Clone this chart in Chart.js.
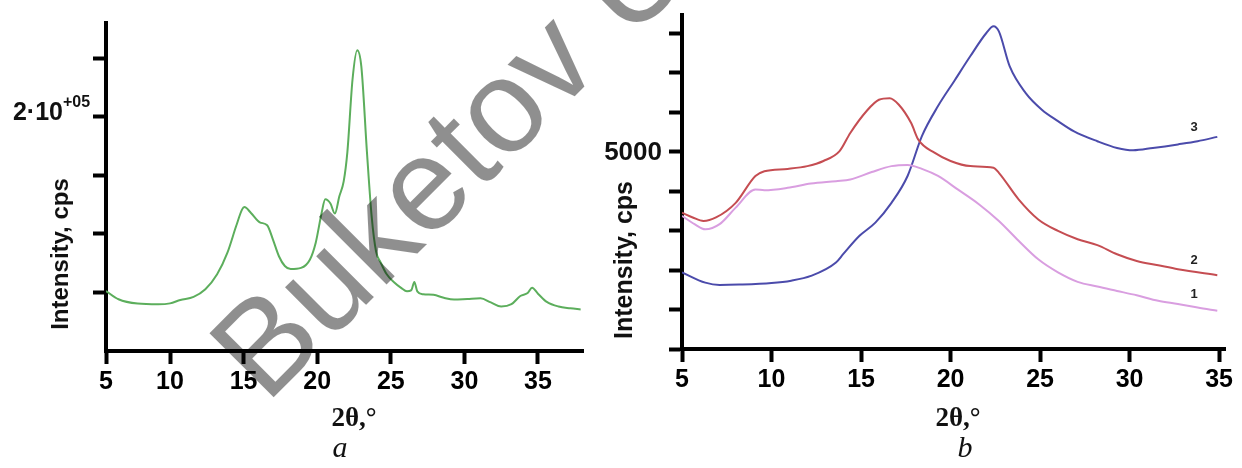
<!DOCTYPE html>
<html>
<head>
<meta charset="utf-8">
<script src="https://cdn.jsdelivr.net/npm/chart.js@4/dist/chart.umd.min.js"></script>
<style>
  body { margin: 0; background: #fff; }
  #wrap { position: relative; width: 1242px; height: 468px; overflow: hidden; }
  canvas { position: absolute; top: 0; }
</style>
</head>
<body>
<div id="wrap">
  <canvas id="chartA" width="590" height="468" style="left:0"></canvas>
  <canvas id="chartB" width="652" height="468" style="left:590px"></canvas>
  <canvas id="mark" width="1242" height="468" style="left:0;pointer-events:none"></canvas>
</div>
<script>
// --- panel a: XRD pattern ---
const angleA = [5.65, 6.5, 7.8, 9.2, 10.0, 10.7, 11.6, 12.4, 13.2, 13.9, 14.5, 14.9, 15.05, 15.5, 16.1, 16.6,
  17.0, 17.4, 17.8, 18.2, 18.9, 19.5, 19.9, 20.3, 20.55, 20.9, 21.2, 21.5, 21.8, 22.05, 22.4, 22.72, 23.0,
  23.38, 23.7, 24.0, 24.3, 24.7, 25.2, 25.7, 26.1, 26.4, 26.6, 26.8, 27.2, 27.9, 28.6, 29.3, 30.2, 31.1,
  31.8, 32.5, 33.2, 33.8, 34.3, 34.6, 35.0, 35.6, 36.4, 37.2, 37.9];
const intensityA = [51300, 44200, 40500, 39900, 40700, 43600, 46200, 52700, 65500, 84000, 107000, 121000, 123000,
  118000, 110000, 107500, 95000, 81000, 72600, 70000, 71000, 78000, 92600, 118000, 129600, 126000, 117500,
  132000, 145000, 170000, 232000, 257000, 243000, 170000, 115000, 85000, 76000, 66000, 59000, 54000, 51000,
  52000, 59000, 51000, 48500, 48000, 45500, 44000, 44500, 45000, 41500, 38000, 40000, 47000, 49500, 54000,
  49000, 42000, 38000, 36500, 35500];
const tickAngleA = [5.65, 10, 15, 20, 25, 30, 35];
const tickLabelA = ["5", "10", "15", "20", "25", "30", "35"];
const tickValueA = [0, 50000, 100000, 150000, 200000, 250000];
const labelValueA = 200000;

// --- panel b: three samples ---
const angleB1 = [5, 5.7, 6.3, 7.1, 8, 9.1, 9.6, 10.9, 12.2, 13.6, 14.4, 15.6, 16.7, 17.6, 18.4, 19.3, 20.4,
  21.6, 22.7, 23.8, 24.9, 26, 27.1, 28.2, 29.3, 30.4, 31.6, 32.7, 33.8, 34.9];
const intensityB1 = [3370, 3160, 3030, 3160, 3580, 4040, 4020, 4080, 4190, 4250, 4290, 4480, 4630, 4660, 4560,
  4380, 4040, 3660, 3240, 2740, 2270, 1940, 1700, 1580, 1470, 1360, 1220, 1140, 1050, 970];
const angleB2 = [5, 5.6, 6.2, 6.9, 8, 9.1, 9.6, 10.9, 12, 12.9, 13.8, 14.4, 15.3, 16, 16.6, 17.1, 17.8, 18.2,
  19.1, 20, 21.1, 22.4, 22.7, 23.8, 24.9, 26, 27.1, 28.2, 29.3, 30.4, 31.6, 32.7, 34.9];
const intensityB2 = [3450, 3330, 3240, 3330, 3700, 4380, 4500, 4560, 4630, 4760, 5010, 5470, 6020, 6310, 6350,
  6190, 5720, 5300, 4970, 4760, 4630, 4590, 4460, 3790, 3280, 2990, 2780, 2630, 2400, 2230, 2120, 2020, 1870];
const angleB3 = [5, 6.3, 7.1, 8.2, 10, 11.1, 12.2, 13.6, 14, 14.9, 15.8, 16.7, 17.6, 18.4, 19.3, 20.2, 21.1,
  22, 22.4, 22.7, 23.3, 24.2, 25.1, 26, 26.9, 28.2, 29.3, 30.2, 31.3, 32.7, 33.8, 34.9];
const intensityB3 = [1940, 1680, 1620, 1630, 1670, 1730, 1850, 2190, 2400, 2860, 3200, 3700, 4380, 5390, 6150,
  6780, 7410, 8000, 8170, 8040, 7160, 6480, 6060, 5770, 5510, 5260, 5090, 5030, 5090, 5180, 5260, 5370];
const tickAngleB = [5, 10, 15, 20, 25, 30, 35];
const tickValueB = [0, 1000, 2000, 3000, 4000, 5000, 6000, 7000, 8000];
const labelValueB = 5000;
const curveNames = ["1", "2", "3"];
const curveLabelAngle = 33.6;
const curveLabelValue = [1370, 2250, 5620];

const SANS = '"Liberation Sans", Arial, sans-serif';
const SERIF = '"Liberation Serif", "Times New Roman", serif';

function pts(xs, ys) { return xs.map((x, i) => ({ x: x, y: ys[i] })); }

function line(data, color) {
  return { data: data, borderColor: color, borderWidth: 2, pointRadius: 0, fill: false,
    cubicInterpolationMode: "monotone" };
}

function fixedTicks(values) {
  return s => { s.ticks = values.map(v => ({ value: v })); };
}

function axisGrid(hideZero) {
  return {
    drawOnChartArea: false, drawTicks: true, tickLength: 13, tickWidth: 4,
    tickColor: ctx => (hideZero && ctx.tick && ctx.tick.value === 0) ? "rgba(0,0,0,0)" : "#000"
  };
}

// free text drawn on each panel
function captions(list) {
  return {
    id: "captions",
    afterDraw(chart) {
      const c = chart.ctx;
      list.forEach(t => {
        c.save();
        c.font = t.font;
        c.fillStyle = "#111";
        c.textAlign = "center";
        c.textBaseline = "middle";
        c.translate(t.x, t.y);
        if (t.rot) c.rotate(t.rot);
        c.fillText(t.text, 0, 0);
        c.restore();
      });
    }
  };
}

const powerLabel = {
  id: "powerLabel",
  afterDraw(chart) {
    const c = chart.ctx;
    const y = chart.scales.y.getPixelForValue(labelValueA);
    c.save();
    c.fillStyle = "#111";
    c.textBaseline = "alphabetic";
    c.textAlign = "right";
    c.font = "bold 25px " + SANS;
    c.fillText("2·10", 63, y + 3);
    c.textAlign = "left";
    c.font = "bold 16px " + SANS;
    c.fillText("+05", 63, y - 10);
    c.restore();
  }
};

const valueLabelB = {
  id: "valueLabelB",
  afterDraw(chart) {
    const c = chart.ctx;
    const y = chart.scales.y.getPixelForValue(labelValueB);
    c.save();
    c.fillStyle = "#111";
    c.font = "bold 26px " + SANS;
    c.textAlign = "right";
    c.textBaseline = "middle";
    c.fillText(String(labelValueB), chart.chartArea.left - 20, y + 1);
    c.restore();
  }
};

const curveTags = {
  id: "curveTags",
  afterDraw(chart) {
    const c = chart.ctx;
    const xs = chart.scales.x, ys = chart.scales.y;
    c.save();
    c.fillStyle = "#222";
    c.font = "bold 13px " + SANS;
    c.textAlign = "center";
    c.textBaseline = "middle";
    curveNames.forEach((n, i) => {
      c.fillText(n, xs.getPixelForValue(curveLabelAngle), ys.getPixelForValue(curveLabelValue[i]));
    });
    c.restore();
  }
};

new Chart(document.getElementById("chartA"), {
  type: "line",
  data: { datasets: [line(pts(angleA, intensityA), "#5cae5c")] },
  options: {
    responsive: false, animation: false, devicePixelRatio: 1,
    layout: { padding: { top: 23, right: 7, left: 0, bottom: 0 } },
    plugins: { legend: { display: false }, tooltip: { enabled: false } },
    scales: {
      x: {
        type: "linear", min: 5.65, max: 38.06,
        afterBuildTicks: fixedTicks(tickAngleA),
        afterFit: s => { s.height = 117; },
        border: { width: 4, color: "#000" },
        grid: axisGrid(false),
        ticks: { color: "#000", padding: 3, autoSkip: false, maxRotation: 0,
          font: { family: SANS, weight: "bold", size: 25 },
          callback: (v, i) => tickLabelA[i] }
      },
      y: {
        min: 0, max: 280300,
        afterBuildTicks: fixedTicks(tickValueA),
        afterFit: s => { s.width = 106; },
        border: { width: 4, color: "#000" },
        grid: axisGrid(true),
        ticks: { autoSkip: false, callback: () => "" }
      }
    }
  },
  plugins: [powerLabel, captions([
    { text: "Intensity, cps", x: 61, y: 254, rot: -Math.PI / 2, font: "bold 24px " + SANS },
    { text: "2θ,°", x: 354, y: 419, font: "bold 27px " + SERIF },
    { text: "a", x: 340, y: 449, font: "italic 30px " + SERIF }
  ])]
});

new Chart(document.getElementById("chartB"), {
  type: "line",
  data: { datasets: [
    line(pts(angleB1, intensityB1), "#d99ee0"),
    line(pts(angleB2, intensityB2), "#c54d52"),
    line(pts(angleB3, intensityB3), "#4b4bab")
  ] },
  options: {
    responsive: false, animation: false, devicePixelRatio: 1,
    layout: { padding: { top: 15, right: 17, left: 0, bottom: 0 } },
    plugins: { legend: { display: false }, tooltip: { enabled: false } },
    scales: {
      x: {
        type: "linear", min: 5, max: 35.33,
        afterBuildTicks: fixedTicks(tickAngleB),
        afterFit: s => { s.height = 119; },
        border: { width: 4, color: "#000" },
        grid: axisGrid(false),
        ticks: { color: "#000", padding: 3, autoSkip: false, maxRotation: 0,
          font: { family: SANS, weight: "bold", size: 25 } }
      },
      y: {
        min: 0, max: 8456,
        afterBuildTicks: fixedTicks(tickValueB),
        afterFit: s => { s.width = 92; },
        border: { width: 4, color: "#000" },
        grid: axisGrid(false),
        ticks: { autoSkip: false, callback: () => "" }
      }
    }
  },
  plugins: [valueLabelB, curveTags, captions([
    { text: "Intensity, cps", x: 35, y: 260, rot: -Math.PI / 2, font: "bold 25px " + SANS },
    { text: "2θ,°", x: 368, y: 419, font: "bold 27px " + SERIF },
    { text: "b", x: 375, y: 449, font: "italic 30px " + SERIF }
  ])]
});

// watermark across both panels
const m = document.getElementById("mark").getContext("2d");
m.save();
m.translate(266, 405);
m.rotate(-45 * Math.PI / 180);
m.font = "132px " + SANS;
m.fillStyle = "rgba(0,0,0,0.44)";
m.fillText("Buketov University", 0, 0);
m.restore();
</script>
</body>
</html>
